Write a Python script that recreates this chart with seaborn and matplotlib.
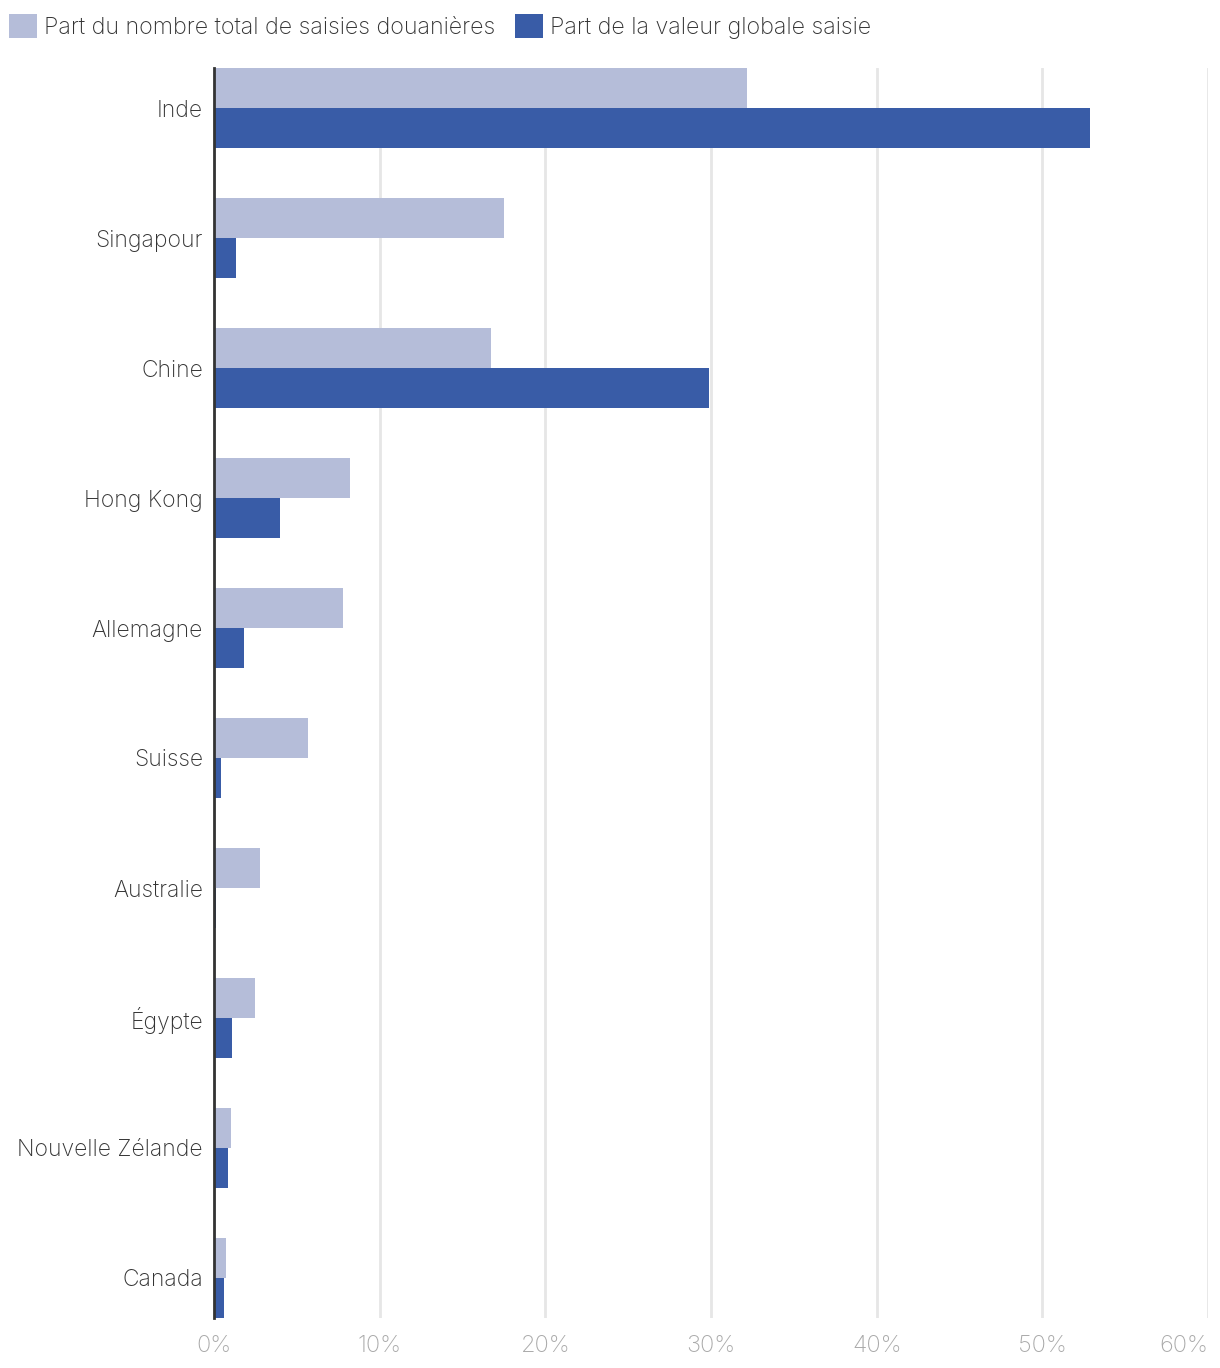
import matplotlib
matplotlib.use("Agg")
import matplotlib.pyplot as plt
import seaborn as sns
import pandas as pd
from matplotlib.patches import Patch

countries = ["Inde", "Singapour", "Chine", "Hong Kong", "Allemagne", "Suisse",
             "Australie", "Égypte", "Nouvelle Zélande", "Canada"]
part_nombre = [32.2, 17.5, 16.7, 8.2, 7.8, 5.7, 2.8, 2.5, 1.0, 0.7]
part_valeur = [52.9, 1.3, 29.9, 4.0, 1.8, 0.4, 0.15, 1.1, 0.85, 0.6]
series_names = ["Part du nombre total de saisies douanières", "Part de la valeur globale saisie"]
xticks = [0, 10, 20, 30, 40, 50, 60]
xtick_labels = ["0%", "10%", "20%", "30%", "40%", "50%", "60%"]

light = "#b5bdd9"
dark = "#395ca7"

df = pd.DataFrame({
    "pays": countries * 2,
    "valeur": part_nombre + part_valeur,
    "serie": [series_names[0]] * len(countries) + [series_names[1]] * len(countries),
})

sns.set_theme(style="white")
plt.rcParams["font.family"] = ["Inter", "DejaVu Sans"]
plt.rcParams["font.weight"] = "light"

fig = plt.figure(figsize=(12.2, 13.68), dpi=100)
ax = fig.add_axes([214 / 1220, 1 - 1318 / 1368, (1208 - 214) / 1220, 1250 / 1368])

sns.barplot(data=df, y="pays", x="valeur", hue="serie", order=countries,
            hue_order=series_names, palette=[light, dark], orient="h",
            width=0.6154, gap=0, saturation=1, linewidth=0, ax=ax, legend=False)

ax.set_xlim(0, 60)
ax.set_ylim(len(countries) - 1 + 0.3077, -0.3077)
ax.set_xticks(xticks)
ax.set_xticklabels(xtick_labels, fontsize=17, color="#aaaaaa", fontweight="light")
labs = ax.get_xticklabels()
labs[-1].set_horizontalalignment("right")
ax.tick_params(axis="x", length=0, pad=12)
ax.tick_params(axis="y", length=0, pad=8, labelsize=16.5, labelcolor="#333333")
for t in ax.get_yticklabels():
    t.set_fontweight("light")
ax.set_xlabel("")
ax.set_ylabel("")
ax.xaxis.grid(True, color="#e6e6e6", linewidth=2)
ax.set_axisbelow(True)
for s in ["top", "right", "bottom"]:
    ax.spines[s].set_visible(False)
ax.spines["left"].set_color("#333333")
ax.spines["left"].set_linewidth(2)
ax.spines["left"].set_zorder(5)

handles = [Patch(facecolor=light, edgecolor="none"), Patch(facecolor=dark, edgecolor="none")]
fig.legend(handles, series_names, loc="upper left", bbox_to_anchor=(9 / 1220, 1 - 14 / 1368),
           ncol=2, frameon=False, prop={"size": 16.75, "weight": "light"},
           handlelength=1.2, handleheight=1.2,
           handletextpad=0.3, columnspacing=0.85, labelcolor="#333333",
           borderaxespad=0, borderpad=0)

fig.savefig("out.png", dpi=100)
